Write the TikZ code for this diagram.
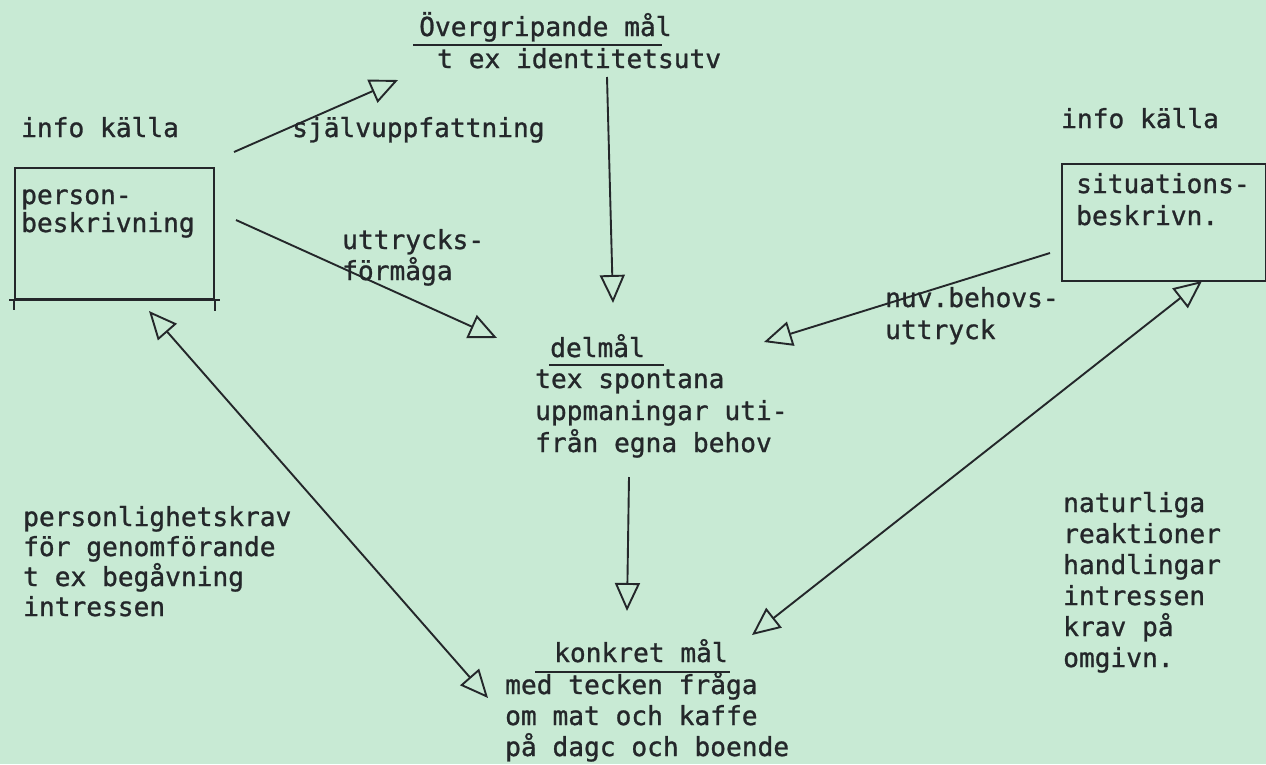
\documentclass[tikz,border=0pt]{standalone}
\usepackage{fontspec}
\newfontfamily\tw[FakeBold=1]{DejaVu Sans Mono}
\usetikzlibrary{arrows.meta}
\definecolor{paper}{HTML}{C8EAD4}
\definecolor{ink}{HTML}{24272A}
\begin{document}
\begin{tikzpicture}[x=1pt,y=-1pt,
  txt/.style={anchor=base west, inner sep=0pt, text=ink, align=left,
              font=\tw\fontsize{26.2}{31}\selectfont},
  tight/.style={font=\tw\fontsize{26.2}{28}\selectfont},
  wide/.style={font=\tw\fontsize{26.2}{32}\selectfont},
  boxst/.style={draw=ink, line width=1.9pt, anchor=north west, inner sep=0pt},
  ln/.style={draw=ink, line width=1.9pt},
  tip/.style={ln, -{Triangle[open, length=28pt, width=25pt]}},
  dtip/.style={ln, {Triangle[open, length=28pt, width=25pt]}-{Triangle[open, length=28pt, width=25pt]}}
]
\fill[paper] (0,0) rectangle (1266,764);
\useasboundingbox (0,0) rectangle (1266,764);

% top goal
\node[txt] (ovg) at (419,36) {Övergripande mål};
\node[txt] (ovgsub) at (437,68) {t ex identitetsutv};
\coordinate (u1a) at (413,45); \coordinate (u1b) at (662,45);
\draw[ln] (u1a) -- (u1b);

% left source
\node[txt] (infoL) at (21,137) {info källa};
\node[boxst, minimum width=199pt, minimum height=131pt] (boxL) at (14,167) {};
\draw[ln] ([xshift=-5pt]boxL.south west) -- ([xshift=5pt]boxL.south east);
\draw[ln] (boxL.south west) -- ++(0,10);
\draw[ln] (boxL.south east) -- ++(0,11);
\node[txt, tight] (pb) at (21,232) {person-\\beskrivning};

% right source
\node[txt] (infoR) at (1061,128) {info källa};
\node[boxst, minimum width=204pt, minimum height=117pt] (boxR) at (1061,163) {};
\draw[ln] (boxR.south east) -- ++(0,5);
\node[txt, wide] (sb) at (1076,225) {situations-\\beskrivn.};

% labels
\node[txt] (sjalv) at (292,137) {självuppfattning};
\node[txt] (uttr) at (342,280) {uttrycks-\\förmåga};
\node[txt, wide] (nuv) at (885,339) {nuv.behovs-\\uttryck};

% sub goal
\node[txt] (delm) at (550,357) {delmål};
\coordinate (u2a) at (549,365); \coordinate (u2b) at (664,365);
\draw[ln] (u2a) -- (u2b);
\node[txt, wide] (delsub) at (535,452) {tex spontana\\uppmaningar uti-\\från egna behov};

% concrete goal
\node[txt] (konk) at (554,662) {konkret mål};
\coordinate (u3a) at (535,672); \coordinate (u3b) at (730,672);
\draw[ln] (u3a) -- (u3b);
\node[txt] (konksub) at (505,756) {med tecken fråga\\om mat och kaffe\\på dagc och boende};

% side texts
\node[txt, font=\tw\fontsize{26.2}{30}\selectfont] (pkrav) at (23,616) {personlighetskrav\\för genomförande\\t ex begåvning\\intressen};
\node[txt] (nat) at (1063,667) {naturliga\\reaktioner\\handlingar\\intressen\\krav på\\omgivn.};

% arrows
\coordinate (a1s) at (234,152); \coordinate (a1e) at (398,80);
\draw[tip] (a1s) -- (a1e);
\coordinate (a2s) at (236,220); \coordinate (a2e) at (497,338);
\draw[tip] (a2s) -- (a2e);
\coordinate (a3s) at (607,77); \coordinate (a3e) at (613,303);
\draw[tip] (a3s) -- (a3e);
\coordinate (a4s) at (1050,253); \coordinate (a4e) at (764,342);
\draw[tip] (a4s) -- (a4e);
\coordinate (a5s) at (629,477); \coordinate (a5e) at (627,611);
\draw[tip] (a5s) -- (a5e);
\coordinate (a6s) at (149,311); \coordinate (a6e) at (488,698);
\draw[dtip] (a6s) -- (a6e);
\coordinate (a7s) at (1202,281); \coordinate (a7e) at (752,635);
\draw[dtip] (a7s) -- (a7e);
\end{tikzpicture}
\end{document}
